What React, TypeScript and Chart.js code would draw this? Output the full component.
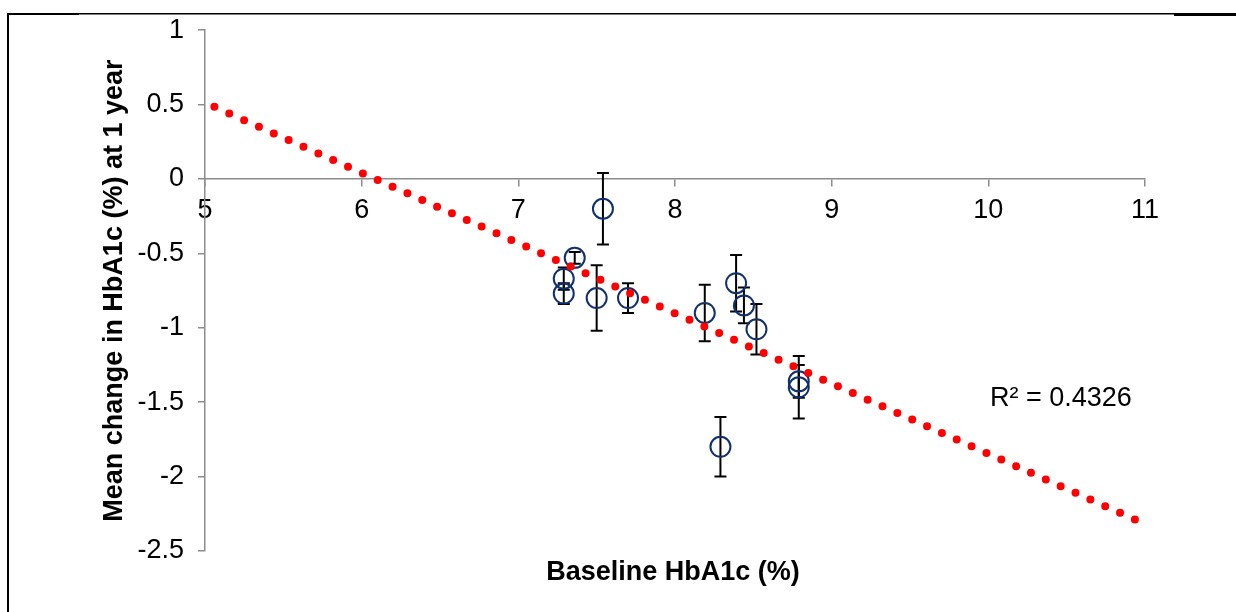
import React, { useEffect, useRef } from "react";
import { Chart, registerables } from "chart.js";

Chart.register(...registerables);

const baselineHbA1c = [7.29, 7.29, 7.36, 7.5, 7.54, 7.7, 8.19, 8.29, 8.39, 8.44, 8.52, 8.79, 8.79];
const meanChange = [-0.67, -0.77, -0.53, -0.8, -0.2, -0.8, -0.9, -1.8, -0.7, -0.85, -1.01, -1.36, -1.4];
const errorHalf = [0.075, 0.07, 0.04, 0.22, 0.24, 0.1, 0.19, 0.2, 0.19, 0.12, 0.17, 0.11, 0.21];
const trendX = [5.06, 10.94];
const trendY = [0.485, -2.29];
const xTicks = [5, 6, 7, 8, 9, 10, 11];
const yTicks = [1, 0.5, 0, -0.5, -1, -1.5, -2, -2.5];
const xTitle = "Baseline HbA1c (%)";
const yTitle = "Mean change in HbA1c (%) at 1 year";
const r2Label = "R² = 0.4326";

const FONT = "'Liberation Sans', Arial, sans-serif";
const AXIS_GREY = "#8c8c8c";

export default function App() {
  const ref = useRef<HTMLCanvasElement | null>(null);

  useEffect(() => {
    const canvas = ref.current;
    if (!canvas) return;

    const errorBars = {
      id: "errorBars",
      beforeDatasetsDraw(chart: any) {
        const ctx = chart.ctx;
        const xs = chart.scales.x;
        const ys = chart.scales.y;
        ctx.save();
        ctx.strokeStyle = "#000";
        ctx.lineWidth = 2;
        baselineHbA1c.forEach((bx, i) => {
          const px = xs.getPixelForValue(bx);
          const top = ys.getPixelForValue(meanChange[i] + errorHalf[i]);
          const bot = ys.getPixelForValue(meanChange[i] - errorHalf[i]);
          ctx.beginPath();
          ctx.moveTo(px, top);
          ctx.lineTo(px, bot);
          ctx.moveTo(px - 6, top);
          ctx.lineTo(px + 6, top);
          ctx.moveTo(px - 6, bot);
          ctx.lineTo(px + 6, bot);
          ctx.stroke();
        });
        ctx.restore();
      },
    };

    const decorations = {
      id: "decorations",
      afterDraw(chart: any) {
        const ctx = chart.ctx;
        const area = chart.chartArea;
        ctx.save();
        // frame
        ctx.fillStyle = "#000";
        ctx.fillRect(7, 13, 72, 2);
        ctx.fillRect(79, 13, 1095, 1.5);
        ctx.fillRect(1174, 13, 62, 3);
        ctx.fillRect(7, 13, 2, 599);
        // titles
        ctx.fillStyle = "#000";
        ctx.font = `bold 27px ${FONT}`;
        ctx.textAlign = "center";
        ctx.textBaseline = "middle";
        ctx.fillText(xTitle, (area.left + area.right) / 2 - 2, 573);
        ctx.save();
        ctx.translate(115, (area.top + area.bottom) / 2);
        ctx.rotate(-Math.PI / 2);
        ctx.fillText(yTitle, 0, 0);
        ctx.restore();
        // R2
        ctx.font = `27px ${FONT}`;
        ctx.textAlign = "left";
        ctx.fillText(r2Label, 990, 399);
        ctx.restore();
      },
    };

    const chart = new Chart(canvas, {
      type: "scatter",
      data: {
        datasets: [
          {
            label: "trend",
            type: "line",
            data: trendX.map((x, i) => ({ x, y: trendY[i] })),
            showLine: true,
            borderColor: "#ff0000",
            borderWidth: 8,
            borderDash: [0, 16.27],
            borderCapStyle: "round",
            pointRadius: 0,
            fill: false,
            order: 0,
          } as any,
          {
            label: "studies",
            data: baselineHbA1c.map((x, i) => ({ x, y: meanChange[i] })),
            pointStyle: "circle",
            pointRadius: 10,
            pointBorderWidth: 2,
            pointBorderColor: "#10306e",
            pointBackgroundColor: "rgba(0,0,0,0)",
            order: 1,
          } as any,
        ],
      },
      options: {
        responsive: false,
        animation: false,
        devicePixelRatio: 1,
        layout: { padding: { left: 0, right: 91, top: 30, bottom: 61 } },
        plugins: {
          legend: { display: false },
          tooltip: { enabled: false },
        },
        scales: {
          x: {
            type: "linear",
            min: 5,
            max: 11,
            position: { y: 0 } as any,
            afterBuildTicks: (s: any) => {
              s.ticks = xTicks.map((v) => ({ value: v }));
            },
            ticks: {
              font: { family: FONT, size: 27 },
              color: "#000",
              padding: 8,
              maxRotation: 0,
              autoSkip: false,
              callback: (v: any) => String(v),
            },
            grid: {
              drawOnChartArea: false,
              drawTicks: true,
              tickLength: 7,
              color: AXIS_GREY,
              lineWidth: 1.5,
            },
            border: { display: true, color: AXIS_GREY, width: 1.5 },
          },
          y: {
            type: "linear",
            min: -2.5,
            max: 1,
            afterFit: (s: any) => {
              s.width = 205;
            },
            afterBuildTicks: (s: any) => {
              s.ticks = yTicks.map((v) => ({ value: v }));
            },
            ticks: {
              font: { family: FONT, size: 27 },
              color: "#000",
              padding: 14,
              autoSkip: false,
              callback: (v: any) => String(Math.round(Number(v) * 10) / 10),
            },
            grid: {
              drawOnChartArea: false,
              drawTicks: true,
              tickLength: 7,
              color: AXIS_GREY,
              lineWidth: 1.5,
            },
            border: { display: true, color: AXIS_GREY, width: 1.5 },
          },
        },
      },
      plugins: [errorBars, decorations],
    });

    return () => chart.destroy();
  }, []);

  return (
    <div style={{ position: "absolute", left: 0, top: 0, width: 1236, height: 612, background: "#fff" }}>
      <canvas ref={ref} width={1236} height={612} />
    </div>
  );
}
